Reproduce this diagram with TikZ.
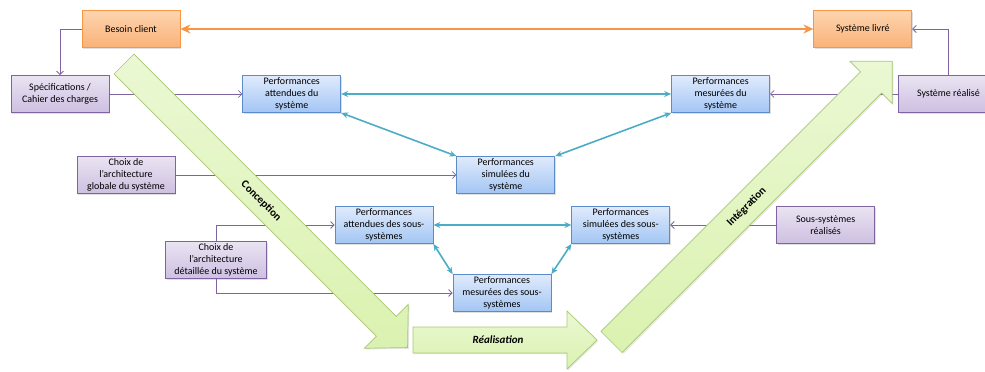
\documentclass[tikz,border=0pt]{standalone}
\usepackage{fontspec}
\setmainfont{Carlito}
\usepackage{tikz}
\usetikzlibrary{arrows.meta, positioning, shadows}

\definecolor{orangeline}{HTML}{F79646}
\definecolor{orangetop}{HTML}{FDD5B0}
\definecolor{orangebot}{HTML}{FAB277}
\definecolor{purpleline}{HTML}{8064A2}
\definecolor{purpletop}{HTML}{EAE4F2}
\definecolor{purplebot}{HTML}{CDBFE1}
\definecolor{blueline}{HTML}{5B8BCB}
\definecolor{bluetop}{HTML}{E0EBFC}
\definecolor{bluebot}{HTML}{A3C5F4}
\definecolor{cyanline}{HTML}{4BACC6}
\definecolor{greenline}{HTML}{A9C772}
\definecolor{greentop}{HTML}{EBF8D3}
\definecolor{greenbot}{HTML}{DAF2B0}

\begin{document}
\begin{tikzpicture}[x=1pt, y=-1pt,
    box/.style={rectangle, draw, line width=0.8pt,
      minimum width=98pt, minimum height=37pt, inner sep=1pt, align=center,
      font=\fontsize{10pt}{12.3pt}\selectfont,
      drop shadow={opacity=0.25, shadow xshift=1.2pt, shadow yshift=-1.2pt}},
    orangebox/.style={box, draw=orangeline, top color=orangetop, bottom color=orangebot},
    purplebox/.style={box, draw=purpleline, top color=purpletop, bottom color=purplebot},
    bluebox/.style={box, draw=blueline, top color=bluetop, bottom color=bluebot},
    link/.style={draw=purpleline, line width=0.8pt, -{Straight Barb[length=3.5pt, width=7pt]}},
    duallink/.style={draw=cyanline, line width=1.6pt,
      {Stealth[length=7pt, width=6pt]}-{Stealth[length=7pt, width=6pt]}},
    mainlink/.style={draw=orangeline, line width=2.4pt,
      {Stealth[length=10pt, width=9pt]}-{Stealth[length=10pt, width=9pt]}},
    phase/.style={draw=greenline, line width=0.7pt, top color=greentop, bottom color=greenbot,
      drop shadow={opacity=0.2, shadow xshift=1.2pt, shadow yshift=-1.2pt}},
    phaselabel/.style={font=\fontsize{11pt}{13pt}\selectfont\bfseries, inner sep=1pt}
]
\useasboundingbox (0,0) rectangle (985,372);

% top row
\node[orangebox] (besoin) at (131,29) {Besoin client};
\node[orangebox, right=633pt of besoin] (livre) {Système livré};

% system level
\node[purplebox] (specs) at (60,94) {Spécifications /\\Cahier des charges};
\node[bluebox, right=133pt of specs] (attsys) {Performances\\attendues du\\système};
\node[bluebox, right=330pt of attsys] (messys) {Performances\\mesurées du\\système};
\node[purplebox, minimum width=100pt, right=128pt of messys] (sysreal) {Système réalisé};
\node[purplebox] (globale) at (126,175) {Choix de\\l’architecture\\globale du système};
\node[bluebox, right=281pt of globale] (simsys) {Performances\\simulées du\\système};

% sub-system level
\node[bluebox] (attss) at (384,225) {Performances\\attendues des sous-\\systèmes};
\node[bluebox, right=138pt of attss] (simss) {Performances\\simulées des sous-\\systèmes};
\node[purplebox, right=106pt of simss] (ssreal) {Sous-systèmes\\réalisés};
\node[purplebox, minimum width=101pt] (detail) at (216,260) {Choix de\\l’architecture\\détaillée du système};
\node[bluebox] (messs) at (502,293) {Performances\\mesurées des sous-\\systèmes};

% links
\draw[link] (besoin.west) -| (specs.north);
\draw[link] (specs) -- (attsys);
\draw[link] (globale) -- (simsys);
\draw[link] (detail.north) |- (attss.west);
\draw[link] (detail.south) |- (messs.west);
\draw[link] (sysreal) -- (messys);
\draw[link] (sysreal.north) |- (livre.east);
\draw[link] (ssreal) -- (simss);
\draw[mainlink] (besoin) -- (livre);
\draw[duallink] (attsys) -- (messys);
\draw[duallink] (attsys.south east) -- (simsys.north west);
\draw[duallink] (messys.south west) -- (simsys.north east);
\draw[duallink] (attss) -- (simss);
\draw[duallink] (attss.south east) -- (messs.north west);
\draw[duallink] (simss.south west) -- (messs.north east);

% V cycle arrows
\begin{scope}[shift={(124,64)}, rotate=-45]
  \draw[phase] (0,-14) -- (371,-14) -- (371,-31) -- (401,0) -- (371,31) -- (371,14) -- (0,14) -- cycle;
  \node[phaselabel, rotate=-45] (conception) at (194,0) {Conception};
\end{scope}
\draw[phase] (413,327) -- (567,327) -- (567,311) -- (597,340) -- (567,369) -- (567,353) -- (413,353) -- cycle;
\node[phaselabel, font=\fontsize{11pt}{13pt}\selectfont\bfseries\itshape] (realisation) at (498,340) {Réalisation};
\begin{scope}[shift={(611.5,342)}, rotate=45]
  \draw[phase] (0,-15) -- (367,-15) -- (367,-30) -- (397,0) -- (367,30) -- (367,15) -- (0,15) -- cycle;
  \node[phaselabel, rotate=45] (integration) at (191,0) {Intégration};
\end{scope}
\end{tikzpicture}
\end{document}
